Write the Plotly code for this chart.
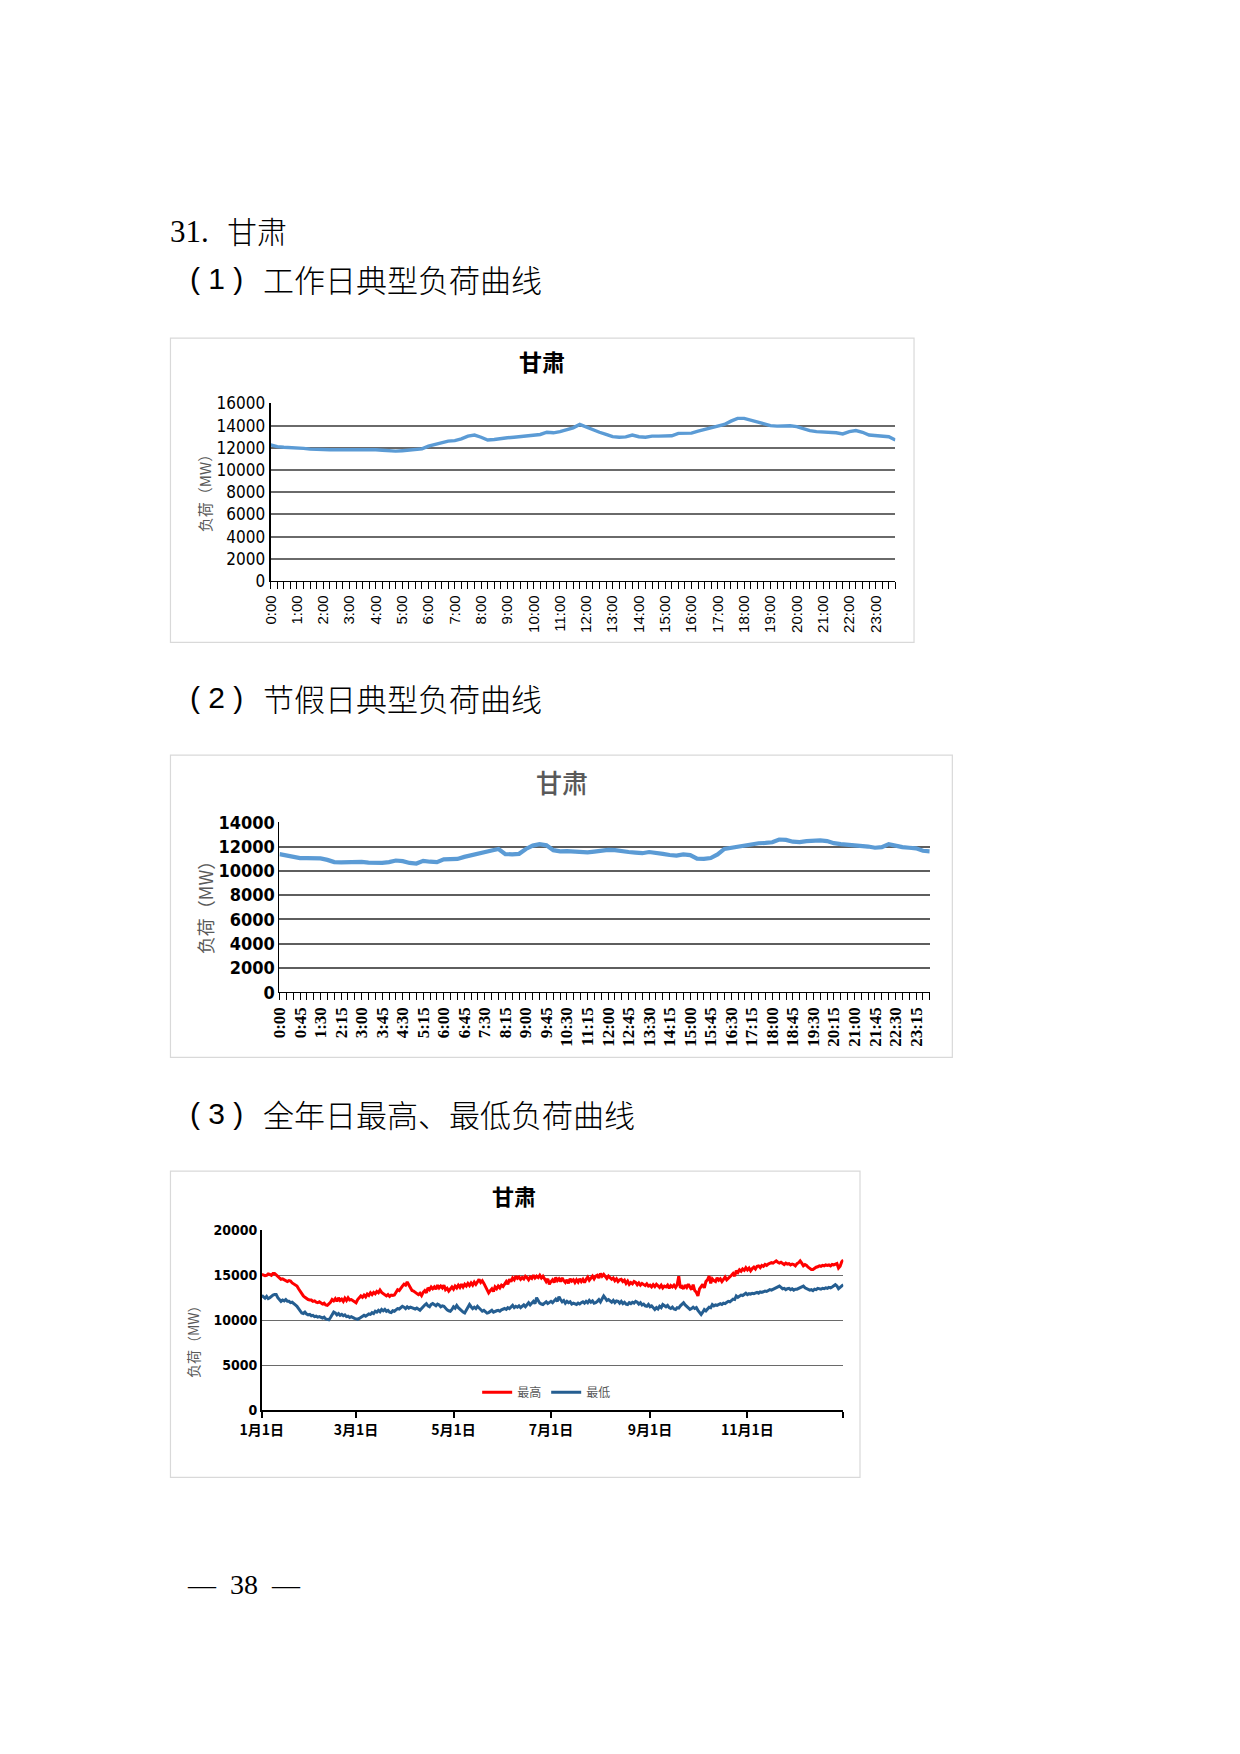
import plotly.graph_objects as go
import pandas as pd

W, H = 1240, 1754


def px(x):
    return x / W


def py(y):
    return 1 - y / H


CJK = "Noto Sans CJK SC"
NUM = "Liberation Sans Narrow, DejaVu Sans Condensed, sans-serif"

# ---------------- data ----------------
# 96 quarter-hour points for the two typical-day curves
times = [f"{h}:{m:02d}" for h in range(24) for m in (0, 15, 30, 45)]

workday_load = [
    12270, 12100, 12050, 12030, 12020, 11950, 11880, 11840,
    11830, 11830, 11830, 11830, 11840, 11850, 11880, 11820,
    11830, 11780, 11720, 11700, 11740, 11800, 11850, 11900,
    12150, 12300, 12450, 12600, 12650, 12800, 13050, 13150,
    12950, 12700, 12750, 12850, 12900, 12950, 13000, 13050,
    13100, 13200, 13400, 13350, 13450, 13600, 13800, 14100,
    13850, 13650, 13400, 13200, 13000, 12950, 12980, 13150,
    13000, 12950, 13050, 13050, 13100, 13080, 13300, 13300,
    13320, 13500, 13650, 13750, 13900, 14100, 14400, 14650,
    14650, 14500, 14300, 14150, 14000, 13950, 14000, 13980,
    13900, 13700, 13550, 13450, 13420, 13400, 13350, 13250,
    13450, 13550, 13400, 13150, 13100, 13050, 13000, 12700,
]

holiday_load = [
    11380, 11250, 11100, 11050, 11040, 11050, 11020, 10900,
    10720, 10700, 10740, 10780, 10740, 10680, 10660, 10650,
    10720, 10850, 10800, 10650, 10600, 10820, 10750, 10720,
    10950, 11000, 10980, 11150, 11300, 11450, 11600, 11680,
    11800, 11380, 11360, 11400, 11800, 12080, 12200, 12100,
    11700, 11600, 11620, 11580, 11560, 11520, 11580, 11650,
    11720, 11700, 11600, 11550, 11500, 11450, 11550, 11500,
    11400, 11300, 11250, 11350, 11300, 11000, 10980, 11050,
    11350, 11800, 11900, 11980, 12080, 12200, 12270, 12300,
    12350, 12580, 12550, 12400, 12370, 12450, 12480, 12500,
    12450, 12280, 12200, 12150, 12120, 12100, 12000, 11900,
    11950, 12200, 12050, 11950, 11900, 11850, 11650, 11600,
]

# daily max / min of the whole year
days = pd.date_range("2019-01-01", "2019-12-31").strftime("%Y-%m-%d").tolist()

daily_max = [
    15100, 15050, 14950, 15000, 15150, 15100, 15000,
    15200, 15200, 15050, 14900, 14700, 14550, 14600,
    14500, 14450, 14300, 14400, 14350, 14150, 14000,
    13850, 13800, 13500, 13200, 12900, 12700, 12550,
    12400, 12300, 12250, 12250, 12100, 12150, 12000,
    11950, 12050, 11950, 11800, 11900, 11700, 11650,
    11800, 12000, 12300, 12150, 12400, 12100, 12500,
    12200, 12350, 12100, 12450, 12200, 12500, 12250,
    12300, 12200, 12100, 11950, 12300, 12450, 12700,
    12550, 12800, 12600, 12900, 12750, 13050, 12850,
    13100, 12950, 13200, 13050, 13350, 13100, 12950,
    12900, 12700, 12850, 12650, 12800, 12750, 12800,
    13100, 13400, 13300, 13600, 13800, 14000, 13900,
    14250, 13900, 13600, 13300, 13250, 13100, 12950,
    12850, 13000, 12750, 13100, 13300, 13050, 13600,
    13400, 13700, 13500, 13700, 13450, 13900, 13600,
    13800, 13600, 13900, 13400, 13550, 13250, 13500,
    13700, 13450, 13800, 13600, 13900, 13650, 14000,
    13700, 14000, 13800, 14100, 13850, 14150, 13900,
    14250, 14000, 14300, 14550, 14200, 14400, 14100,
    13800, 13400, 13050, 13300, 13500, 13200, 13700,
    13500, 13800, 13600, 13900, 13750, 14100, 14300,
    14000, 14550, 14300, 14700, 14500, 14900, 14650,
    14800, 14550, 14750, 14600, 14900, 14750, 14500,
    14800, 14650, 15000, 14700, 14900, 14750, 15000,
    14700, 14900, 14600, 14300, 14600, 14000, 14300,
    14500, 14200, 14750, 14400, 14600, 14300, 14700,
    14400, 14200, 14500, 14100, 14600, 14350, 14500,
    14200, 14500, 14250, 14600, 14300, 14550, 14200,
    14550, 14800, 14450, 14700, 14900, 14600, 14900,
    15000, 14700, 15200, 14900, 15100, 14800, 14650,
    14900, 14750, 14550, 14700, 14400, 14600, 14300,
    14500, 14550, 14300, 14450, 14100, 14350, 14000,
    14200, 14050, 14300, 14200, 13950, 14150, 13900,
    14100, 14000, 13850, 14050, 13800, 13900, 13700,
    13950, 13750, 14000, 13800, 13650, 13900, 13600,
    13800, 13700, 13900, 13550, 13850, 13700, 13900,
    13650, 13950, 14900, 13600, 13750, 13500, 13900,
    13650, 14000, 13700, 13400, 13950, 13300, 13100,
    12700, 13500, 13800, 14000, 13600, 14300, 14500,
    14900, 14100, 14600, 14400, 14300, 14700, 14450,
    14600, 14300, 14550, 14800, 14500, 14650, 14750,
    15000, 15200, 14900, 15500, 15300, 15600, 15450,
    15700, 15550, 15850, 15600, 15800, 15500, 15750,
    15900, 15700, 16000, 16050, 15850, 16100, 16000,
    16200, 16100, 16250, 16300, 16400, 16350, 16500,
    16600, 16450, 16350, 16450, 16300, 16200, 16350,
    16250, 16300, 16150, 16250, 16200, 16050, 16300,
    16400, 16600, 16350, 16050, 16200, 16100, 15900,
    15750, 15650, 15650, 15800, 15900, 15950, 16050,
    16000, 16100, 16050, 16150, 16100, 16150, 16050,
    16200, 16150, 16250, 16300, 15800, 16000, 16500,
    16700,
]

daily_min = [
    12750, 12600, 12450, 12650, 12400, 12500, 12700,
    12800, 12850, 12850, 12500, 12300, 12100, 12250,
    12150, 12300, 12100, 12100, 11950, 12000, 11800,
    11700, 11550, 11300, 11000, 10800, 10750, 10900,
    10700, 10600, 10650, 10500, 10550, 10400, 10450,
    10350, 10400, 10300, 10250, 10350, 10150, 10100,
    10050, 10300, 10550, 10900, 10800, 10600, 10750,
    10550, 10650, 10500, 10600, 10400, 10450, 10300,
    10400, 10250, 10200, 10150, 10100, 10200, 10300,
    10400, 10550, 10450, 10600, 10700, 10650, 10850,
    10750, 11000, 10900, 11100, 10950, 11200, 11050,
    11200, 11000, 11100, 10900, 10850, 11050, 11000,
    11150, 11300, 11250, 11400, 11550, 11450, 11300,
    11500, 11350, 11450, 11400, 11300, 11250, 11350,
    11200, 11100, 11300, 11550, 11700, 11850, 11600,
    11500, 11750, 11850, 11750, 11600, 11800, 11700,
    11500, 11600, 11550, 11300, 11150, 11050, 11000,
    11200, 11500, 11350, 11650, 11400, 11200, 11000,
    10900, 10800, 11100, 11400, 11750, 11500, 11300,
    11450, 11300, 11550, 11400, 11200, 11000, 11100,
    10950, 10800, 10850, 10950, 11100, 10900, 11000,
    11050, 11100, 11000, 11150, 11200, 11300, 11200,
    11400, 11300, 11500, 11650, 11400, 11550, 11450,
    11600, 11400, 11550, 11700, 11500, 11800, 11950,
    11700, 11950, 12100, 11850, 12500, 12200, 11900,
    11800, 11750, 11900, 12050, 11850, 12000, 12100,
    11950, 12200, 12350, 12100, 12600, 12300, 12050,
    12200, 11900, 12100, 11950, 12050, 11800, 11900,
    11850, 11750, 11900, 11800, 11950, 12050, 11900,
    12100, 11950, 12200, 12000, 12150, 11900, 11950,
    12100, 12300, 12050, 12400, 12700, 12450, 12200,
    12300, 12100, 12000, 12200, 11950, 12150, 12100,
    11900, 12100, 11850, 12000, 11800, 11750, 11950,
    11850, 12000, 11900, 12100, 12000, 11800, 11950,
    11700, 11800, 11600, 11550, 11750, 11500, 11600,
    11350, 11200, 11400, 11250, 11550, 11400, 11750,
    11600, 11500, 11650, 11400, 11300, 11450, 11250,
    11200, 11400, 11350, 11600, 11800, 11950, 11700,
    11500, 11350, 11200, 11300, 11450, 11300, 11400,
    11100, 10850, 10650, 10900, 11200, 11050, 11300,
    11450, 11400, 11750, 11600, 11700, 11650, 11800,
    11850, 11750, 11900, 11850, 12000, 12100, 12050,
    12200, 12350, 12300, 12700, 12550, 12650, 12800,
    12750, 12900, 13000, 12850, 12950, 12900, 13000,
    12950, 13050, 13100, 13000, 13150, 13100, 13200,
    13250, 13200, 13300, 13400, 13350, 13450, 13500,
    13600, 13700, 13800, 13650, 13500, 13550, 13400,
    13500, 13550, 13400, 13500, 13350, 13450, 13450,
    13550, 13600, 13700, 13800, 13600, 13500, 13400,
    13350, 13400, 13300, 13450, 13400, 13550, 13500,
    13450, 13550, 13500, 13600, 13550, 13650, 13600,
    13700, 13800, 13950, 13800, 13500, 13650, 13800,
    13950,
]

month_ticks = ["2019-01-01", "2019-03-01", "2019-05-01", "2019-07-01",
               "2019-09-01", "2019-11-01", "2019-12-31"]
month_labels = ["1月1日", "3月1日", "5月1日", "7月1日", "9月1日", "11月1日", ""]

# ---------------- figure ----------------
fig = go.Figure()

fig.add_trace(go.Scatter(x=times, y=workday_load, mode="lines",
                         line=dict(color="#5B9BD5", width=3.4),
                         xaxis="x", yaxis="y", showlegend=False))
fig.add_trace(go.Scatter(x=times, y=holiday_load, mode="lines",
                         line=dict(color="#5B9BD5", width=4.2),
                         xaxis="x2", yaxis="y2", showlegend=False))
fig.add_trace(go.Scatter(x=days, y=daily_max, mode="lines", name="最高",
                         line=dict(color="#FF0000", width=3),
                         xaxis="x3", yaxis="y3"))
fig.add_trace(go.Scatter(x=days, y=daily_min, mode="lines", name="最低",
                         line=dict(color="#255E91", width=3),
                         xaxis="x3", yaxis="y3"))

grid = "#6A6A6A"

# chart 1 : workday
fig.update_layout(
    xaxis=dict(domain=[px(245), px(881)], anchor="y", type="category",
               range=[0, 95], tickmode="array", tickvals=times,
               ticktext=[t if i % 4 == 0 else "" for i, t in enumerate(times)],
               tickangle=-90, ticks="outside", ticklen=7, tickcolor="#000",
               showline=True, linecolor="#000", linewidth=1.3, showgrid=False,
               tickfont=dict(family="Liberation Sans, Arial", size=15, color="#000")),
    yaxis=dict(domain=[py(569), py(389)], anchor="x", range=[0, 16000],
               dtick=2000, tickformat="d", showgrid=True, gridcolor=grid,
               gridwidth=1.5, showline=True, linecolor="#000", linewidth=2,
               ticks="", zeroline=False,
               tickfont=dict(family=NUM, size=17, color="#000")),
)

# chart 2 : holiday
fig.update_layout(
    xaxis2=dict(domain=[px(254), px(916)], anchor="y2", type="category",
                range=[0, 95], tickmode="array", tickvals=times,
                ticktext=[t if i % 3 == 0 else "" for i, t in enumerate(times)],
                tickangle=-90, ticks="outside", ticklen=7, tickcolor="#000",
                showline=True, linecolor="#000", linewidth=1.3, showgrid=False,
                tickfont=dict(family="Liberation Serif, serif", size=17,
                              color="#000", weight="bold")),
    yaxis2=dict(domain=[py(985), py(813)], anchor="x2", range=[0, 14000],
                dtick=2000, tickformat="d", showgrid=True, gridcolor="#5E5E5E",
                gridwidth=1.8, showline=True, linecolor="#000", linewidth=1.3,
                ticks="", zeroline=False,
                tickfont=dict(family=NUM, size=18, color="#000", weight="bold")),
)

# chart 3 : whole year
fig.update_layout(
    xaxis3=dict(domain=[px(236), px(828)], anchor="y3", type="date",
                range=["2019-01-01", "2019-12-31"], tickmode="array",
                tickvals=month_ticks, ticktext=month_labels,
                ticks="outside", ticklen=6, tickcolor="#000", tickwidth=1.5,
                showline=True, linecolor="#000", linewidth=1.5, showgrid=False,
                tickfont=dict(family=CJK, size=14, color="#000", weight="bold")),
    yaxis3=dict(domain=[py(1408), py(1226)], anchor="x3", range=[0, 20000],
                dtick=5000, tickformat="d", showgrid=True, gridcolor=grid,
                gridwidth=1.4, showline=True, linecolor="#000", linewidth=1.5,
                ticks="", zeroline=False,
                tickfont=dict(family=NUM, size=14, color="#000", weight="bold")),
    legend=dict(orientation="h", x=px(526), xanchor="center", y=py(1390),
                yanchor="middle", bgcolor="rgba(0,0,0,0)",
                font=dict(family=CJK, size=12, color="#595959"),
                itemwidth=30),
)

# chart frames
frames = [(143, 323, 900, 631), (143, 745, 939, 1051), (143, 1166, 845, 1476)]
for x0, y0, x1, y1 in frames:
    fig.add_shape(type="rect", xref="paper", yref="paper",
                  x0=px(x0), x1=px(x1), y0=py(y0), y1=py(y1),
                  line=dict(color="#D9D9D9", width=1.2), layer="below")

ann = []
# page text
ann.append(dict(x=px(141), y=py(215), text="31.",
                font=dict(family="Liberation Serif, serif", size=31, color="#000")))
ann.append(dict(x=px(199), y=py(214), text="甘肃",
                font=dict(family=CJK, size=30, color="#000", weight=300)))
sections = [(263, "1", "工作日典型负荷曲线"),
            (687, "2", "节假日典型负荷曲线"),
            (1108, "3", "全年日最高、最低负荷曲线")]
for yy, n, label in sections:
    ann.append(dict(x=px(161), y=py(yy), text=f"( {n} )",
                    font=dict(family="Liberation Sans, Arial", size=30, color="#000")))
    ann.append(dict(x=px(235), y=py(yy), text=label,
                    font=dict(family=CJK, size=31, color="#000", weight=300)))
ann.append(dict(x=px(158), y=py(1584), text="—  38  —",
                font=dict(family="Liberation Serif, serif", size=28, color="#000")))

# chart titles
ann.append(dict(x=px(521), y=py(346), xanchor="center", text="<b>甘肃</b>",
                font=dict(family=CJK, size=23, color="#000")))
ann.append(dict(x=px(542), y=py(772), xanchor="center", text="甘肃",
                font=dict(family=CJK, size=26, color="#595959", weight=500)))
ann.append(dict(x=px(493), y=py(1190), xanchor="center", text="<b>甘肃</b>",
                font=dict(family=CJK, size=22, color="#000")))

# y-axis titles
for xx, yy, size in [(177, 476, 15), (178, 895, 18), (166, 1335, 14)]:
    ann.append(dict(x=px(xx), y=py(yy), xanchor="center", textangle=-90,
                    text="负荷（MW）",
                    font=dict(family=CJK, size=size, color="#595959")))

for a in ann:
    a.setdefault("xanchor", "left")
    a.update(xref="paper", yref="paper", yanchor="middle", showarrow=False)

fig.update_layout(
    annotations=ann,
    width=W, height=H,
    margin=dict(l=0, r=0, t=0, b=0),
    paper_bgcolor="white", plot_bgcolor="white",
)

fig.write_html("out.html")
